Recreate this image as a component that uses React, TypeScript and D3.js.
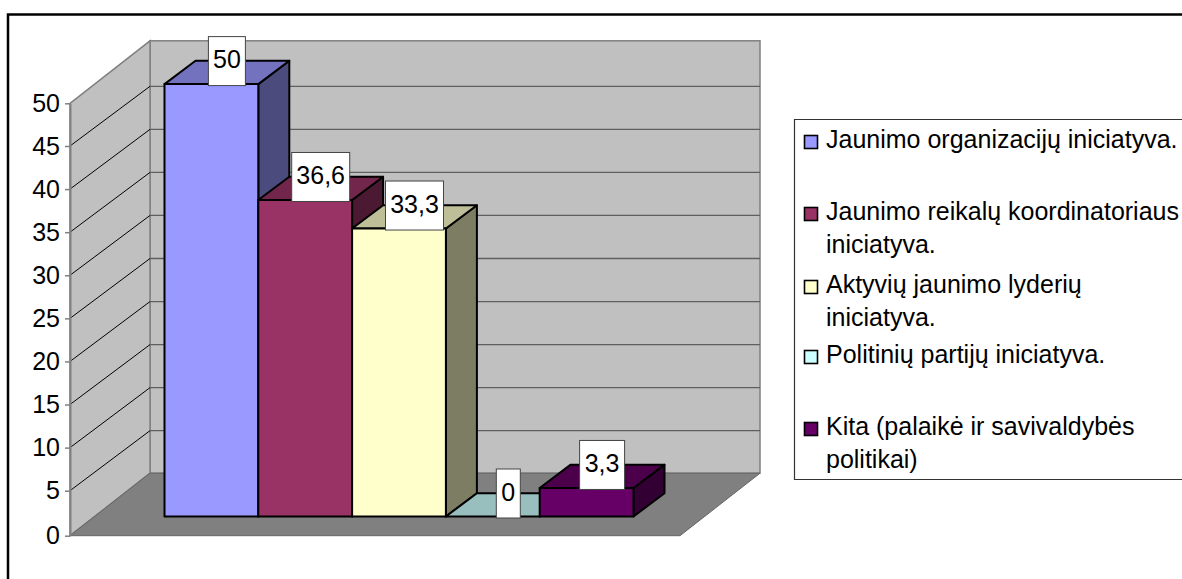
import { useEffect, useRef } from "react";
import * as d3 from "d3";

const categories = [
  "Jaunimo organizacijų iniciatyva.",
  "Jaunimo reikalų koordinatoriaus iniciatyva.",
  "Aktyvių jaunimo lyderių iniciatyva.",
  "Politinių partijų iniciatyva.",
  "Kita (palaikė ir savivaldybės politikai)",
];
const values = [50, 36.6, 33.3, 0, 3.3];
const valueLabels = ["50", "36,6", "33,3", "0", "3,3"];
const yTicks = [0, 5, 10, 15, 20, 25, 30, 35, 40, 45, 50];
const colors = ["#9999FF", "#993366", "#FFFFCC", "#CCFFFF", "#660066"];
const legendLines = [
  ["Jaunimo organizacijų iniciatyva."],
  ["Jaunimo reikalų koordinatoriaus", "iniciatyva."],
  ["Aktyvių jaunimo lyderių", "iniciatyva."],
  ["Politinių partijų iniciatyva."],
  ["Kita (palaikė ir savivaldybės", "politikai)"],
];

const width = 1182;
const height = 579;
const font = "'Liberation Sans', Arial, sans-serif";
const fontSize = 25;

// the 3D box: front-left corner of the floor, and how far the walls sit back
const frontLeft = 70;
const frontRight = 680;
const floorDepth = { x: 80, y: -62.5 };
const barDepth = { x: 31, y: -23.3 };
const barBase = -19.2; // bars stand a little behind the front edge of the floor

const x = d3.scaleBand<string>().domain(categories).range([164.5, 633.5]);
const y = d3.scaleLinear().domain([0, 50]).range([535.7, 103.3]);
// ticks and wall lines are not quite evenly spaced in the original
const yFront = d3.scaleLinear().domain([0, 5, 45, 50]).range([535.7, 490.7, 146, 103.3]);
const yBack = d3.scaleLinear().domain([0, 5, 45, 50]).range([473.2, 430.7, 86.3, 40.8]);

const pts = (list: number[][]) => list.map((p) => p.join(",")).join(" ");

const App = () => {
  const axisRef = useRef<SVGGElement>(null);

  useEffect(() => {
    const axis = d3.select(axisRef.current);
    axis.selectAll("*").remove();
    axis.call(d3.axisLeft(yFront).tickValues(yTicks).tickSize(5).tickPadding(5).tickSizeOuter(0));
    axis.selectAll("text").attr("font-size", fontSize).attr("font-family", font).attr("fill", "#000");
    axis.select(".domain").attr("stroke", "#808080").attr("stroke-width", 2);
    axis.selectAll("line").attr("stroke", "#808080").attr("stroke-width", 1.5);
  }, []);

  const y0 = y(0);
  const backLeft = frontLeft + floorDepth.x;
  const backRight = frontRight + floorDepth.x;

  return (
    <svg
      width={width}
      height={height}
      xmlns="http://www.w3.org/2000/svg"
      style={{ position: "absolute", left: 0, top: 0, background: "#fff" }}
    >
      {/* outer chart frame runs off the right and bottom of the picture */}
      <path d={`M8,${height} V14.5 H${width}`} fill="none" stroke="#000" strokeWidth={2.5} />

      {/* walls and floor */}
      <rect
        x={backLeft}
        y={yBack(50)}
        width={backRight - backLeft}
        height={yBack(0) - yBack(50)}
        fill="#C0C0C0"
        stroke="#808080"
        strokeWidth={1.5}
      />
      <polygon
        points={pts([
          [frontLeft, y0],
          [frontLeft, y(50)],
          [backLeft, yBack(50)],
          [backLeft, yBack(0)],
        ])}
        fill="#C0C0C0"
        stroke="#808080"
        strokeWidth={1.5}
      />
      <polygon
        points={pts([
          [frontLeft, y0],
          [backLeft, yBack(0)],
          [backRight, yBack(0)],
          [frontRight, y0],
        ])}
        fill="#808080"
        stroke="#666"
        strokeWidth={1}
      />

      {/* gridlines */}
      {yTicks.slice(1, -1).map((t) => (
        <g key={t}>
          <line x1={frontLeft} y1={yFront(t)} x2={backLeft} y2={yBack(t)} stroke="#000" strokeWidth={1} />
          <line x1={backLeft} y1={yBack(t)} x2={backRight} y2={yBack(t)} stroke="#5f5f5f" strokeWidth={1.3} />
        </g>
      ))}

      <g ref={axisRef} transform={`translate(${frontLeft},0)`} />

      {/* bars, left to right so each one overlaps the side of the one before */}
      {categories.map((c, i) => {
        const x0 = x(c)!;
        const x1 = x0 + x.bandwidth();
        const bottom = y0 + barBase;
        const top = y(values[i]) + barBase;
        const base = d3.color(colors[i])!;
        const topFill = base.darker(0.83).formatHex();
        const sideFill = base.darker(2).formatHex();
        return (
          <g key={c} stroke="#000" strokeWidth={2} strokeLinejoin="round">
            <polygon
              points={pts([
                [x1, bottom],
                [x1 + barDepth.x, bottom + barDepth.y],
                [x1 + barDepth.x, top + barDepth.y],
                [x1, top],
              ])}
              fill={sideFill}
            />
            <polygon
              points={pts([
                [x0, top],
                [x0 + barDepth.x, top + barDepth.y],
                [x1 + barDepth.x, top + barDepth.y],
                [x1, top],
              ])}
              fill={topFill}
            />
            <rect x={x0} y={top} width={x1 - x0} height={bottom - top} fill={colors[i]} />
          </g>
        );
      })}

      {/* value labels sit on the middle of each bar's top face */}
      {categories.map((c, i) => {
        const cx = x(c)! + x.bandwidth() / 2 + barDepth.x / 2;
        const boxBottom = y(values[i]) + barBase + 1.5;
        const boxW = [37, 58, 58, 24, 45][i];
        return (
          <g key={c}>
            <rect
              x={cx - boxW / 2}
              y={boxBottom - 49}
              width={boxW}
              height={49}
              fill="#fff"
              stroke="#444"
              strokeWidth={1}
            />
            <text
              x={cx}
              y={boxBottom - 17.5}
              textAnchor="middle"
              fontFamily={font}
              fontSize={fontSize}
              fill="#000"
            >
              {valueLabels[i]}
            </text>
          </g>
        );
      })}

      {/* legend */}
      <path d={`M${width},119.5 H794.5 V479.5 H${width}`} fill="none" stroke="#333" strokeWidth={1.2} />
      {legendLines.map((lines, i) => {
        const baseline = [148, 220, 293, 363, 435][i];
        return (
          <g key={i}>
            <rect
              x={804.5}
              y={baseline - 12.5}
              width={13}
              height={13}
              fill={colors[i]}
              stroke="#000"
              strokeWidth={1.6}
            />
            {lines.map((line, j) => (
              <text
                key={j}
                x={826}
                y={baseline + j * 32.5}
                fontFamily={font}
                fontSize={fontSize}
                fill="#000"
              >
                {line}
              </text>
            ))}
          </g>
        );
      })}
    </svg>
  );
};

export default App;
